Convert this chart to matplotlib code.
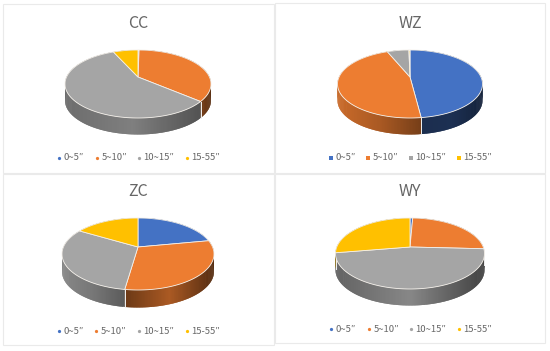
import numpy as np
import matplotlib
matplotlib.use("Agg")
import matplotlib.pyplot as plt
from matplotlib.patches import Polygon, Rectangle

plt.rcParams['font.family'] = ['Noto Sans CJK SC', 'DejaVu Sans']

categories = ['0~5″', '5~10″', '10~15″', '15-55″']
colors = ['#4472C4', '#ED7D31', '#A5A5A5', '#FFC000']
titles = ['CC', 'WZ', 'ZC', 'WY']
cc_values = [0.3, 36.0, 57.0, 6.7]
wz_values = [48.0, 45.8, 5.9, 0.3]
zc_values = [22.0, 30.3, 31.2, 16.5]
wy_values = [0.7, 25.1, 46.6, 27.6]
all_values = [cc_values, wz_values, zc_values, wy_values]

# layout: apex x, apex y, half width, back extent, front extent, depth (pixels)
layouts = [(138, 77, 73, 27, 41, 16.5),
           (410, 77, 72.5, 27, 41, 16.5),
           (138, 247, 76, 29, 43, 17.5),
           (410, 247, 74.5, 29, 42, 16.5)]
# side shading of each slice: left, middle, right brightness
side_shades = [
    {1: (.5, .45, .38), 2: (.66, .77, .50)},
    {0: (.40, .42, .30), 1: (.85, .72, .50)},
    {1: (.45, .72, .36), 2: (.82, .72, .55)},
    {2: (.60, .82, .40), 1: (.4, .4, .4), 3: (.6, .6, .6)},
]
panels = [(3, 4, 271, 169), (275, 3, 270, 170), (3, 174, 271, 171), (275, 174, 270, 169)]
title_y = [23, 23, 191, 191]
legend_y = [158, 158, 331, 329]
legend_marks = [[59, 97, 139, 187], [331, 368, 411, 459],
                [59, 96, 139, 187], [331, 369, 411, 459]]
marker_size = [9, 20, 9, 9]
marker_style = ['o', 's', 'o', 'o']


def project(theta, cx, cy, hw, back, front):
    """Map clockwise-from-top pie angle to the perspective image of the disc."""
    k = (front - back) / (front + back)
    b = front * (1 - k)
    a = hw * np.sqrt(1 - k ** 2)
    u, v = np.sin(theta), -np.cos(theta)
    d = 1 - k * v
    return cx + a * u / d, cy + b * v / d


fig = plt.figure(figsize=(5.5, 3.51), dpi=100)
ax = fig.add_axes([0, 0, 1, 1])
ax.set_xlim(0, 550)
ax.set_ylim(351, 0)
ax.axis('off')

for p, (vals, lay) in enumerate(zip(all_values, layouts)):
    x0, y0, w, h = panels[p]
    ax.add_patch(Rectangle((x0, y0), w, h, fc='white', ec='#EAEAEA', lw=0.8, zorder=0))
    cx, cy, hw, back, front, depth = lay
    edges = np.concatenate([[0], np.cumsum(vals)]) / np.sum(vals) * 2 * np.pi

    # sides: drawn with overlapping strips so no seams show
    for i, c in enumerate(colors):
        th = np.linspace(edges[i], edges[i + 1], max(3, int((edges[i + 1] - edges[i]) * 60)))
        xs, ys = project(th, cx, cy, hw, back, front)
        shade = side_shades[p].get(i, (.6, .6, .6))
        rgb = np.array(matplotlib.colors.to_rgb(c))
        front_mask = (np.pi * 0.5 <= th) & (th <= np.pi * 1.5)
        if front_mask.any():
            lo, hi = xs[front_mask].min(), xs[front_mask].max()
        else:
            lo, hi = xs.min(), xs.max()
        for j in range(len(th) - 1):
            j2 = min(j + 2, len(th) - 1)
            xm = (xs[j] + xs[j + 1]) / 2
            t = np.clip((xm - lo) / max(hi - lo, 1), 0, 1)
            f = np.interp(t, [0, .5, 1], shade)
            q = [(xs[j], ys[j]), (xs[j2], ys[j2]),
                 (xs[j2], ys[j2] + depth), (xs[j], ys[j] + depth)]
            ax.add_patch(Polygon(q, fc=rgb * f, ec='none', lw=0, zorder=2))
    for e in edges[:-1]:
        ex, ey = project(e, cx, cy, hw, back, front)
        if np.pi * 0.5 < e < np.pi * 1.5:
            ax.plot([ex, ex], [ey, ey + depth], color='#F2F2F2', lw=0.7, zorder=3)

    # tops
    for i, c in enumerate(colors):
        th = np.linspace(edges[i], edges[i + 1], max(3, int((edges[i + 1] - edges[i]) * 60)))
        xs, ys = project(th, cx, cy, hw, back, front)
        pts = np.column_stack([np.r_[cx, xs], np.r_[cy, ys]])
        ax.add_patch(Polygon(pts, closed=True, fc=c, ec='#F4F0EA', lw=0.6, zorder=4))

    ax.text(cx, title_y[p], titles[p], ha='center', va='center', fontsize=11.5, color='#666666')
    for mx, lab, c in zip(legend_marks[p], categories, colors):
        ax.scatter([mx], [legend_y[p]], s=marker_size[p] * 0.6, marker=marker_style[p], color=c, lw=0, zorder=5)
        ax.text(mx + 4.5, legend_y[p], lab, ha='left', va='center', fontsize=6.8, color='#666666')

fig.savefig('out.png', dpi=100)
